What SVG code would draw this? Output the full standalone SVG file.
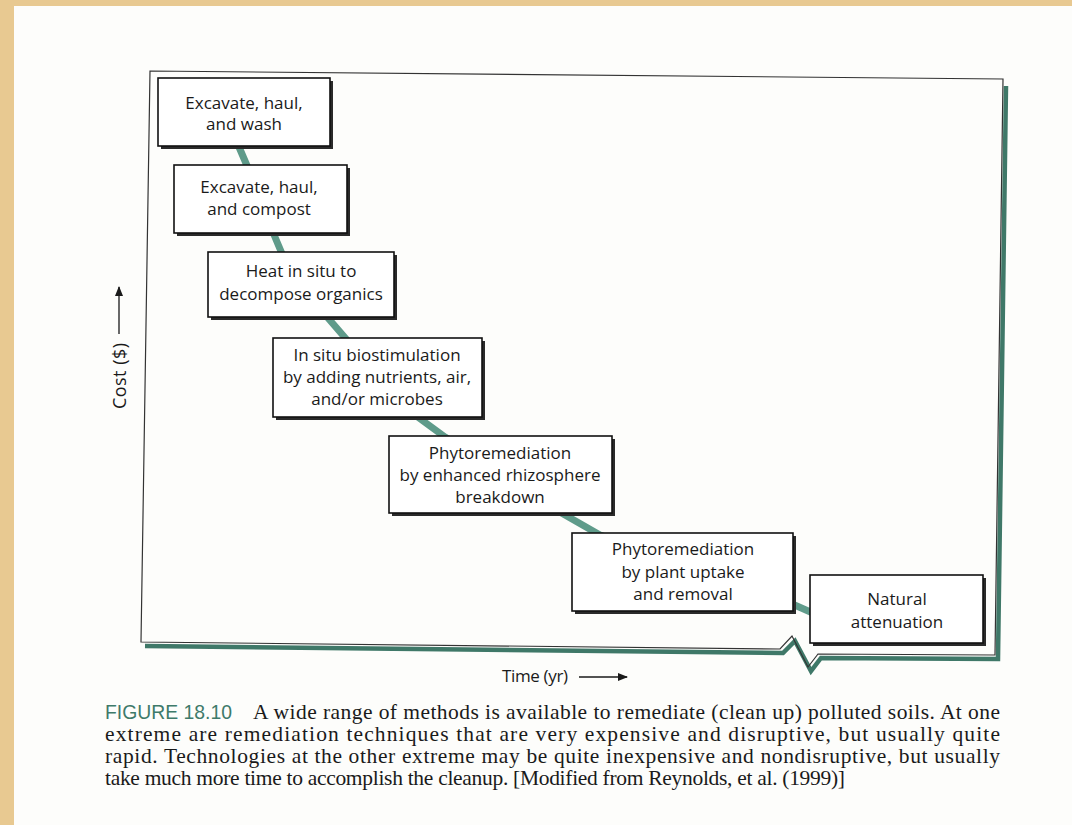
<svg xmlns="http://www.w3.org/2000/svg" width="1072" height="825" viewBox="0 0 1072 825">
<style>
.box{fill:#fff;stroke:#111;stroke-width:1.6}
.sh{fill:#2a2a2a}
.t{font-family:"Open Sans","Noto Sans",sans-serif;font-size:17px;fill:#1a1a1a;text-anchor:middle}
.ax{font-family:"Open Sans","Noto Sans",sans-serif;font-size:17px;fill:#1a1a1a}
.cap{font-family:"Liberation Serif","Times New Roman",serif;font-size:21.5px;fill:#1a1a1a}
.fig{font-family:"Liberation Sans",Arial,sans-serif;font-size:21px;fill:#3e7a6a}
</style>
<defs>
<marker id="ah" markerWidth="10" markerHeight="8" refX="9" refY="4" orient="auto" markerUnits="userSpaceOnUse">
<path d="M0,0 L10,4 L0,8 Z" fill="#1a1a1a"/>
</marker>
</defs>
<rect x="0" y="0" width="1072" height="825" fill="#e8c991"/>
<rect x="14" y="6" width="1058" height="819" fill="#fdfdfb"/>
<g id="frame">
<path d="M1006,86 L998,659 L821,658 L811,671 L795,641 L783,653 L145,646" fill="none" stroke="#3f7868" stroke-width="4.5"/>
<path d="M150,71 L1003,79 L995,655 L818,654 L808,667 L792,636 L780,649 L141,642 Z" fill="none" stroke="#333" stroke-width="1.2"/>
</g>
<g id="connectors">
<polyline points="236,140 248,168 272,230 283,256 328,318 347,340 415,415 445,437 558,511 600,535 790,603 815,614" fill="none" stroke="#5f9b8a" stroke-width="7" stroke-linejoin="round"/>
</g>
<g id="n1"><rect class="sh" x="161" y="81" width="172" height="68"/><rect class="box" x="158" y="78" width="172" height="68"/><text class="t" x="244" y="109">Excavate, haul,</text><text class="t" x="244" y="130">and wash</text></g>
<g id="n2"><rect class="sh" x="177" y="168" width="173" height="68"/><rect class="box" x="174" y="165" width="173" height="68"/><text class="t" x="259" y="193">Excavate, haul,</text><text class="t" x="259" y="215">and compost</text></g>
<g id="n3"><rect class="sh" x="211" y="255" width="186" height="65"/><rect class="box" x="208" y="252" width="186" height="65"/><text class="t" x="301" y="277">Heat in situ to</text><text class="t" x="301" y="300">decompose organics</text></g>
<g id="n4"><rect class="sh" x="276" y="341" width="209" height="79"/><rect class="box" x="273" y="338" width="209" height="79"/><text class="t" x="377" y="361">In situ biostimulation</text><text class="t" x="377" y="383">by adding nutrients, air,</text><text class="t" x="377" y="405">and/or microbes</text></g>
<g id="n5"><rect class="sh" x="392" y="439" width="223" height="77"/><rect class="box" x="389" y="436" width="223" height="77"/><text class="t" x="500" y="459">Phytoremediation</text><text class="t" x="500" y="481">by enhanced rhizosphere</text><text class="t" x="500" y="503">breakdown</text></g>
<g id="n6"><rect class="sh" x="575" y="536" width="221" height="78"/><rect class="box" x="572" y="533" width="221" height="78"/><text class="t" x="683" y="555">Phytoremediation</text><text class="t" x="683" y="578">by plant uptake</text><text class="t" x="683" y="600">and removal</text></g>
<g id="n7"><rect class="sh" x="813" y="578" width="173" height="68"/><rect class="box" x="810" y="575" width="173" height="68"/><text class="t" x="897" y="605">Natural</text><text class="t" x="897" y="628">attenuation</text></g>
<g id="axes">
<line x1="119" y1="334" x2="119" y2="287" stroke="#1a1a1a" stroke-width="1.3" marker-end="url(#ah)"/>
<text class="ax" style="font-size:18px" transform="translate(126,409) rotate(-90)" textLength="66" lengthAdjust="spacing">Cost ($)</text>
<text class="ax" x="502" y="682" textLength="66" lengthAdjust="spacing">Time (yr)</text>
<line x1="579" y1="677" x2="627" y2="677" stroke="#1a1a1a" stroke-width="1.3" marker-end="url(#ah)"/>
</g>
<g id="caption">
<text class="fig" x="105" y="719" textLength="127" lengthAdjust="spacingAndGlyphs">FIGURE 18.10</text>
<text class="cap" x="253" y="719" textLength="747" lengthAdjust="spacing">A wide range of methods is available to remediate (clean up) polluted soils. At one</text>
<text class="cap" x="105" y="741" textLength="895" lengthAdjust="spacing">extreme are remediation techniques that are very expensive and disruptive, but usually quite</text>
<text class="cap" x="105" y="763" textLength="895" lengthAdjust="spacing">rapid. Technologies at the other extreme may be quite inexpensive and nondisruptive, but usually</text>
<text class="cap" x="105" y="785" textLength="740" lengthAdjust="spacing">take much more time to accomplish the cleanup. [Modified from Reynolds, et al. (1999)]</text>
</g>
</svg>
